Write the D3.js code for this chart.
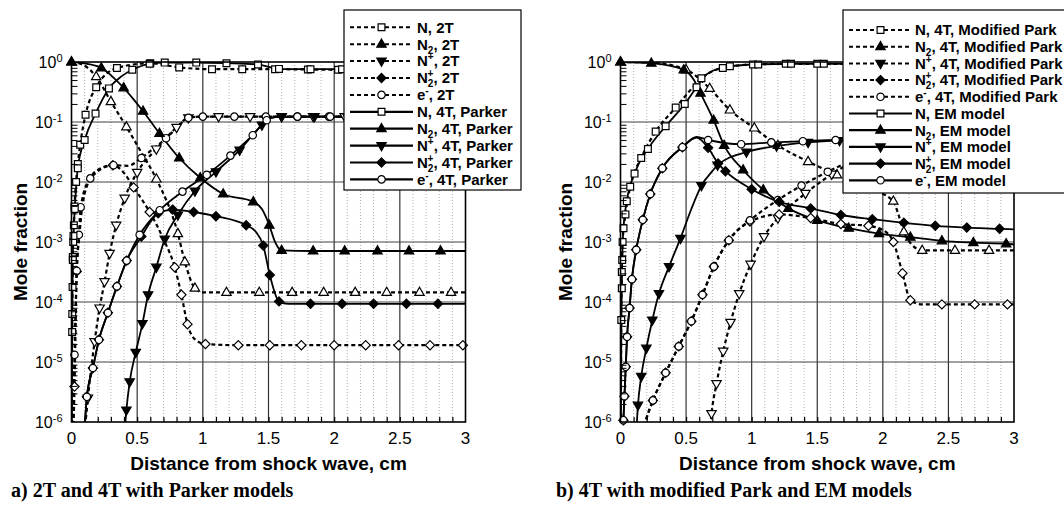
<!DOCTYPE html>
<html><head><meta charset="utf-8">
<script src="https://cdn.jsdelivr.net/npm/d3@7"></script>
<style>body{margin:0;background:#fff}text{font-family:"Liberation Sans",Arial,Helvetica,sans-serif}text.cap{font-family:"Liberation Serif","Times New Roman",serif}</style>
</head><body><svg id="c" width="1064" height="506" xmlns="http://www.w3.org/2000/svg"></svg>
<script>
// Each point: [distance from shock wave (cm), log10(mole fraction), optional 0 = no marker]
// ---- Panel a: 2T and 4T with Parker models ----
const a_N_2T = [[0.002,-6.5,0],[0.006,-4.2],[0.008,-3.75],[0.010,-3.25],[0.013,-3.0],[0.018,-2.72],[0.023,-2.41],[0.035,-2.0],[0.048,-1.7],[0.066,-1.38],[0.107,-0.88],[0.188,-0.42],[0.346,-0.1],[0.6,-0.02],[0.82,-0.09],[1.07,-0.12],[1.3,-0.12],[1.55,-0.12],[1.8,-0.125],[2.03,-0.13],[2.3,-0.13],[2.55,-0.13],[2.8,-0.13],[3.0,-0.13,0]];
const a_N2_2T = [[0,0],[0.09,-0.05,0],[0.188,-0.245],[0.3,-0.66],[0.418,-1.08],[0.53,-1.5,0],[0.646,-1.95],[0.81,-2.86],[0.863,-3.33],[0.94,-3.77],[1.0,-3.84,0],[1.18,-3.84],[1.43,-3.84],[1.68,-3.84],[1.92,-3.84],[2.16,-3.84],[2.4,-3.84],[2.65,-3.84],[2.89,-3.84],[3.0,-3.84,0]];
const a_Np_2T = [[0.095,-6.3,0],[0.125,-5.6],[0.176,-4.66],[0.214,-4.1],[0.252,-3.66],[0.29,-3.19],[0.34,-2.72],[0.405,-2.27],[0.5,-1.84],[0.646,-1.45],[0.8,-1.09],[0.89,-0.93],[1.0,-0.91,0],[1.12,-0.91],[1.36,-0.91],[1.6,-0.91],[1.84,-0.91],[2.08,-0.91],[2.32,-0.91],[2.56,-0.91],[2.8,-0.91],[3.0,-0.91,0]];
const a_N2p_2T = [[0.012,-6.4,0],[0.023,-5.41],[0.04,-3.49],[0.06,-2.9,0],[0.08,-2.45,0],[0.143,-1.94,0],[0.2,-1.8,0],[0.315,-1.72],[0.4,-1.85,0],[0.473,-2.09],[0.595,-2.5],[0.7,-2.95,0],[0.786,-3.42],[0.837,-3.88],[0.883,-4.37],[0.95,-4.64,0],[1.02,-4.7],[1.27,-4.72],[1.51,-4.72],[1.75,-4.72],[2.0,-4.72],[2.24,-4.72],[2.49,-4.72],[2.73,-4.72],[2.98,-4.72],[3.0,-4.72,0]];
const a_e_2T = [[0.01,-6.4,0],[0.023,-4.88],[0.04,-3.48],[0.056,-2.88],[0.07,-2.42],[0.143,-1.94],[0.32,-1.72],[0.43,-1.73,0],[0.532,-1.6],[0.62,-1.45,0],[0.72,-1.27],[0.8,-1.1,0],[0.89,-0.93],[1.0,-0.91],[1.24,-0.91],[1.48,-0.91],[1.72,-0.91],[1.96,-0.91],[2.2,-0.91],[2.44,-0.91],[2.68,-0.91],[2.92,-0.91],[3.0,-0.91,0]];
const a_N_4T = [[0.002,-6.5,0],[0.005,-4.5],[0.01,-3.3],[0.015,-2.9],[0.025,-2.45],[0.048,-1.77],[0.1,-1.3],[0.183,-0.86],[0.285,-0.44],[0.38,-0.24,0],[0.463,-0.13],[0.595,-0.03],[0.71,-0.01],[0.95,-0.01],[1.18,-0.02],[1.42,-0.04],[1.5,-0.08,0],[1.58,-0.115],[1.64,-0.12,0],[1.82,-0.12],[2.06,-0.12],[2.3,-0.12],[2.54,-0.12],[2.78,-0.12],[3.0,-0.12,0]];
const a_N2_4T = [[0,0],[0.12,-0.03,0],[0.227,-0.1],[0.397,-0.43],[0.545,-0.82],[0.67,-1.19],[0.82,-1.6],[0.98,-1.93],[1.155,-2.2],[1.384,-2.33],[1.45,-2.45,0],[1.506,-2.72],[1.55,-3.0,0],[1.6,-3.14],[1.84,-3.15],[2.08,-3.15],[2.33,-3.15],[2.57,-3.15],[2.81,-3.15],[3.0,-3.15,0]];
const a_Np_4T = [[0.4,-6.3,0],[0.418,-5.8],[0.443,-5.33],[0.489,-4.84],[0.54,-4.36],[0.583,-3.88],[0.646,-3.42],[0.71,-2.95],[0.81,-2.55],[0.94,-2.15],[1.1,-1.83],[1.28,-1.47],[1.45,-1.05],[1.52,-0.93,0],[1.6,-0.91],[1.85,-0.91],[2.1,-0.91],[2.35,-0.91],[2.6,-0.91],[2.85,-0.91],[3.0,-0.91,0]];
const a_N2p_4T = [[0.095,-6.3,0],[0.117,-5.58],[0.163,-5.1],[0.209,-4.63],[0.277,-4.18],[0.346,-3.74],[0.42,-3.31],[0.532,-2.91],[0.6,-2.67,0],[0.66,-2.52],[0.77,-2.46],[0.93,-2.5],[1.1,-2.57],[1.33,-2.72],[1.4,-2.82,0],[1.46,-3.06],[1.51,-3.55],[1.58,-3.99],[1.65,-4.03,0],[1.82,-4.03],[2.06,-4.03],[2.3,-4.03],[2.55,-4.03],[2.79,-4.03],[3.0,-4.03,0]];
const a_e_4T = [[0.095,-6.3,0],[0.117,-5.58],[0.163,-5.1],[0.209,-4.63],[0.277,-4.18],[0.346,-3.74],[0.42,-3.31],[0.519,-2.88],[0.672,-2.47],[0.845,-2.16],[1.03,-1.88],[1.21,-1.56],[1.38,-1.22],[1.486,-0.97],[1.55,-0.92,0],[1.72,-0.91],[1.97,-0.91],[2.22,-0.91],[2.47,-0.91],[2.72,-0.91],[2.97,-0.91],[3.0,-0.91,0]];
// ---- Panel b: 4T with modified Park and EM models ----
const b_N_MP = [[0.002,-6.5,0],[0.006,-4.3],[0.01,-3.5],[0.016,-3.0],[0.038,-2.54],[0.074,-2.08],[0.158,-1.6],[0.268,-1.16],[0.421,-0.76],[0.52,-0.5,0],[0.617,-0.27],[0.78,-0.1],[1.01,-0.04],[1.26,-0.03],[1.5,-0.03],[1.76,-0.03],[2.0,-0.03],[2.25,-0.03],[2.5,-0.03],[2.75,-0.03],[3.0,-0.03,0]];
const b_N2_MP = [[0,0],[0.235,-0.01,0],[0.5,-0.13],[0.68,-0.44],[0.834,-0.8],[1.02,-1.1],[1.2,-1.39],[1.43,-1.66],[1.65,-1.88],[1.86,-2.08],[2.08,-2.32],[2.12,-2.55,0],[2.16,-2.83],[2.22,-3.04,0],[2.3,-3.14],[2.55,-3.14],[2.81,-3.14],[3.0,-3.14,0]];
const b_Np_MP = [[0.675,-6.3,0],[0.694,-5.86],[0.732,-5.36],[0.783,-4.82],[0.839,-4.34],[0.905,-3.86],[0.992,-3.37],[1.094,-2.91],[1.2,-2.6],[1.41,-2.19],[1.61,-1.87],[1.8,-1.62],[1.95,-1.42],[2.05,-1.22],[2.13,-1.04],[2.25,-0.97],[2.5,-0.96],[2.75,-0.96],[3.0,-0.96,0]];
const b_N2p_MP = [[0.13,-6.4,0],[0.247,-5.64],[0.344,-5.18],[0.444,-4.74],[0.54,-4.32],[0.625,-3.88],[0.712,-3.41],[0.826,-2.97],[0.987,-2.66],[1.21,-2.54],[1.45,-2.6],[1.68,-2.7],[1.89,-2.73],[2.0,-2.8,0],[2.08,-3.0],[2.15,-3.52],[2.21,-3.97],[2.3,-4.04,0],[2.45,-4.04],[2.7,-4.04],[2.95,-4.04],[3.0,-4.04,0]];
const b_e_MP = [[0.13,-6.4,0],[0.247,-5.64],[0.344,-5.18],[0.444,-4.74],[0.54,-4.32],[0.625,-3.88],[0.712,-3.41],[0.826,-2.97],[0.987,-2.64],[1.2,-2.3],[1.38,-2.06],[1.58,-1.83],[1.76,-1.64],[1.92,-1.45],[2.04,-1.25],[2.12,-1.06],[2.2,-0.97],[2.45,-0.95],[2.7,-0.95],[2.95,-0.95],[3.0,-0.95,0]];
const b_N_EM = [[0.002,-6.5,0],[0.006,-4.5,0],[0.01,-3.77],[0.013,-3.3],[0.023,-2.77],[0.048,-2.32],[0.107,-1.86],[0.209,-1.45],[0.344,-1.07],[0.49,-0.7],[0.58,-0.42],[0.66,-0.2,0],[0.834,-0.07],[1.05,-0.04],[1.3,-0.03],[1.55,-0.03],[1.8,-0.03],[2.05,-0.03],[2.3,-0.03],[2.55,-0.03],[2.8,-0.03],[3.0,-0.03,0]];
const b_N2_EM = [[0,0],[0.235,-0.02],[0.482,-0.13],[0.56,-0.3,0],[0.61,-0.52],[0.71,-0.97],[0.79,-1.39],[0.935,-1.8],[1.088,-2.13],[1.28,-2.44],[1.5,-2.64],[1.74,-2.77],[1.97,-2.86],[2.21,-2.92],[2.45,-2.98],[2.69,-3.01],[2.94,-3.03],[3.0,-3.04,0]];
const b_Np_EM = [[0.115,-6.4,0],[0.133,-5.72],[0.158,-5.24],[0.197,-4.77],[0.243,-4.3],[0.293,-3.86],[0.37,-3.41],[0.457,-2.94],[0.54,-2.45,0],[0.617,-2.06],[0.7,-1.82,0],[0.74,-1.72],[0.96,-1.5],[1.19,-1.4],[1.43,-1.34],[1.67,-1.31],[1.92,-1.3],[2.16,-1.3],[2.4,-1.29],[2.65,-1.29],[2.9,-1.29],[3.0,-1.29,0]];
const b_N2p_EM = [[0.015,-6.4,0],[0.022,-5.97],[0.03,-5.57],[0.04,-5.08],[0.05,-4.58],[0.069,-4.1],[0.087,-3.62],[0.12,-3.13],[0.17,-2.63],[0.227,-2.2],[0.319,-1.77],[0.472,-1.42],[0.58,-1.26,0],[0.668,-1.43],[0.744,-1.69],[0.8,-1.82],[1.0,-2.12],[1.21,-2.33],[1.45,-2.44],[1.68,-2.55],[1.92,-2.62],[2.16,-2.68],[2.4,-2.73],[2.64,-2.76],[2.89,-2.78],[3.0,-2.79,0]];
const b_e_EM = [[0.015,-6.4,0],[0.022,-5.97],[0.03,-5.57],[0.04,-5.08],[0.05,-4.58],[0.069,-4.1],[0.087,-3.62],[0.12,-3.13],[0.17,-2.63],[0.227,-2.2],[0.319,-1.77],[0.472,-1.42],[0.58,-1.25,0],[0.668,-1.3],[0.92,-1.37],[1.15,-1.34],[1.39,-1.32],[1.64,-1.3],[1.88,-1.3],[2.13,-1.29],[2.37,-1.29],[2.62,-1.28],[2.86,-1.28],[3.0,-1.28,0]];

// ---- Axis tick labels ----
const xTickValues = [0,0.5,1,1.5,2,2.5,3];
const xTickLabels = ["0","0.5","1","1.5","2","2.5","3"];
const yTickExps = [0,-1,-2,-3,-4,-5,-6];
const xTitle = "Distance from shock wave, cm";
const yTitle = "Mole fraction";
const captions = ["a) 2T and 4T with Parker models","b) 4T with modified Park and EM models"];

// ---- Series definitions (legend order) ----
const seriesA = [
  {d:a_N_2T, sp:"N", suf:", 2T", shape:"square", dash:true},
  {d:a_N2_2T, sp:"N2", suf:", 2T", shape:"up", dash:true},
  {d:a_Np_2T, sp:"N+", suf:", 2T", shape:"down", dash:true},
  {d:a_N2p_2T, sp:"N2+", suf:", 2T", shape:"diamond", dash:true},
  {d:a_e_2T, sp:"e-", suf:", 2T", shape:"circle", dash:true},
  {d:a_N_4T, sp:"N", suf:", 4T, Parker", shape:"square", dash:false},
  {d:a_N2_4T, sp:"N2", suf:", 4T, Parker", shape:"up", dash:false},
  {d:a_Np_4T, sp:"N+", suf:", 4T, Parker", shape:"down", dash:false},
  {d:a_N2p_4T, sp:"N2+", suf:", 4T, Parker", shape:"diamond", dash:false},
  {d:a_e_4T, sp:"e-", suf:", 4T, Parker", shape:"circle", dash:false}
];
const seriesB = [
  {d:b_N_MP, sp:"N", suf:", 4T, Modified Park", shape:"square", dash:true},
  {d:b_N2_MP, sp:"N2", suf:", 4T, Modified Park", shape:"up", dash:true},
  {d:b_Np_MP, sp:"N+", suf:", 4T, Modified Park", shape:"down", dash:true},
  {d:b_N2p_MP, sp:"N2+", suf:", 4T, Modified Park", shape:"diamond", dash:true},
  {d:b_e_MP, sp:"e-", suf:", 4T, Modified Park", shape:"circle", dash:true},
  {d:b_N_EM, sp:"N", suf:", EM model", shape:"square", dash:false},
  {d:b_N2_EM, sp:"N2", suf:", EM model", shape:"up", dash:false},
  {d:b_Np_EM, sp:"N+", suf:", EM model", shape:"down", dash:false},
  {d:b_N2p_EM, sp:"N2+", suf:", EM model", shape:"diamond", dash:false},
  {d:b_e_EM, sp:"e-", suf:", EM model", shape:"circle", dash:false}
];

const yTop = 62, yBot = 422;
const panels = [
  {x0:71.5, x1:465.5, series:seriesA, cap:captions[0], capX:11, ylabX:27,
   leg:{x:344, y:10, w:177, h:180, r0:27.3, dy:16.9, l0:350, l1:413, tx:417}},
  {x0:620.5, x1:1014, series:seriesB, cap:captions[1], capX:556, ylabX:572,
   leg:{x:843, y:10, w:240, h:183, r0:30, dy:16.7, l0:849, l1:912, tx:915}}
];

function shapePath(s){
  switch(s){
    case "square": return "M-3.4,-3.4h6.8v6.8h-6.8z";
    case "up": return "M0,-5.2L4.7,3L-4.7,3Z";
    case "down": return "M0,5.2L4.7,-3L-4.7,-3Z";
    case "diamond": return "M0,-4.6L4.6,0L0,4.6L-4.6,0Z";
    default: return "M3.7,0A3.7,3.7 0 1,1 -3.7,0A3.7,3.7 0 1,1 3.7,0Z";
  }
}
function markerFill(s, dash){
  if (dash) return "#fff";
  return (s==="up"||s==="down"||s==="diamond") ? "#000" : "#fff";
}
function addSpecies(t, sp, suf){
  const sub = 10;
  if (sp==="N"){ t.append("tspan").text("N"+suf); }
  else if (sp==="N2"){ t.append("tspan").text("N"); t.append("tspan").attr("font-size",sub).attr("dy",4).text("2"); t.append("tspan").attr("dy",-4).text(suf); }
  else if (sp==="N+"){ t.append("tspan").text("N"); t.append("tspan").attr("font-size",sub).attr("dy",-6).text("+"); t.append("tspan").attr("dy",6).text(suf); }
  else if (sp==="N2+"){ t.append("tspan").text("N"); t.append("tspan").attr("font-size",sub).attr("dy",4).text("2"); t.append("tspan").attr("font-size",sub).attr("dx",-5.8).attr("dy",-10).text("+"); t.append("tspan").attr("dy",6).text(suf); }
  else { t.append("tspan").text("e"); t.append("tspan").attr("font-size",sub).attr("dy",-6).text("-"); t.append("tspan").attr("dy",6).text(suf); }
}

const svg = d3.select("#c");
svg.append("rect").attr("width",1064).attr("height",506).attr("fill","#fff");

panels.forEach((P, pi) => {
  const x = d3.scaleLinear().domain([0,3]).range([P.x0, P.x1]);
  const y = d3.scaleLog().domain([1e-6,1]).range([yBot, yTop]);
  const g = svg.append("g");
  const clipId = "clip"+pi;
  svg.append("defs").append("clipPath").attr("id",clipId).append("rect")
    .attr("x",P.x0).attr("y",yTop).attr("width",P.x1-P.x0).attr("height",yBot-yTop);

  // minor vertical dotted grid
  const minorX = d3.range(1,30).map(i=>i/10).filter(v=>Math.abs(v*2-Math.round(v*2))>1e-6);
  g.append("g").selectAll("line").data(minorX).join("line")
    .attr("x1",d=>x(d)).attr("x2",d=>x(d)).attr("y1",yTop).attr("y2",yBot)
    .attr("stroke","#b0b0b0").attr("stroke-width",1).attr("stroke-dasharray","1,2");
  // major grid
  g.append("g").selectAll("line").data(xTickValues.slice(1,-1)).join("line")
    .attr("x1",d=>x(d)).attr("x2",d=>x(d)).attr("y1",yTop).attr("y2",yBot)
    .attr("stroke","#333").attr("stroke-width",1.2);
  g.append("g").selectAll("line").data(yTickExps.slice(1,-1)).join("line")
    .attr("x1",P.x0).attr("x2",P.x1).attr("y1",d=>y(Math.pow(10,d))).attr("y2",d=>y(Math.pow(10,d)))
    .attr("stroke","#444").attr("stroke-width",1.2);

  // curves
  const line = d3.line().x(p=>x(p[0])).y(p=>y(Math.pow(10,p[1]))).curve(d3.curveMonotoneX);
  const cg = g.append("g").attr("clip-path",`url(#${clipId})`);
  P.series.forEach(s => {
    cg.append("path").attr("d", line(s.d)).attr("fill","none").attr("stroke","#000")
      .attr("stroke-width", s.dash ? 2.2 : 1.8)
      .attr("stroke-dasharray", s.dash ? "4,3" : null);
  });
  // markers
  P.series.forEach(s => {
    const pts = s.d.filter(p => p[2]!==0 && p[0]>=0 && p[0]<=3 && p[1]>=-6.02 && p[1]<=0);
    g.append("g").selectAll("path").data(pts).join("path")
      .attr("transform", p=>`translate(${x(p[0])},${y(Math.pow(10,p[1]))})`)
      .attr("d", shapePath(s.shape)).attr("fill", markerFill(s.shape, s.dash))
      .attr("stroke","#000").attr("stroke-width",1.2);
  });

  // inward ticks
  const ax = g.append("g").attr("transform",`translate(0,${yBot})`)
    .call(d3.axisBottom(x).tickValues(d3.range(1,30).map(i=>i/10)).tickSize(-5).tickFormat(""));
  ax.select(".domain").remove();
  ax.selectAll("line").attr("stroke","#000").attr("stroke-width",1.2);
  const minorY = [];
  for (let e=-6; e<0; e++) for (let m=2; m<10; m++) minorY.push(m*Math.pow(10,e));
  const ay = g.append("g").attr("transform",`translate(${P.x0},0)`)
    .call(d3.axisLeft(y).tickValues(minorY).tickSize(-6).tickFormat(""));
  ay.select(".domain").remove();
  ay.selectAll("line").attr("stroke","#000").attr("stroke-width",1);

  // frame
  g.append("rect").attr("x",P.x0).attr("y",yTop).attr("width",P.x1-P.x0).attr("height",yBot-yTop)
    .attr("fill","none").attr("stroke","#000").attr("stroke-width",1.6);

  // tick labels
  g.append("g").selectAll("text").data(xTickValues).join("text")
    .attr("x",(d)=>x(d)).attr("y",443.5).attr("text-anchor","middle")
    .attr("font-size",17).text((d,i)=>xTickLabels[i]);
  yTickExps.forEach(e => {
    const t = g.append("text").attr("x",P.x0-9).attr("y",y(Math.pow(10,e))+6.3)
      .attr("text-anchor","end").attr("font-size",16);
    t.append("tspan").text("10");
    t.append("tspan").attr("font-size",11).attr("dy",-6.6).text(String(e));
  });

  // titles
  g.append("text").attr("x",(P.x0+P.x1)/2).attr("y",470).attr("text-anchor","middle")
    .attr("font-size",19).attr("font-weight","bold").text(xTitle);
  g.append("text").attr("transform",`translate(${P.ylabX},${(yTop+yBot)/2}) rotate(-90)`)
    .attr("text-anchor","middle").attr("font-size",19).attr("font-weight","bold").text(yTitle);
  g.append("text").attr("class","cap").attr("x",P.capX).attr("y",497)
    .style("font-family","'Liberation Serif','Times New Roman',serif")
    .attr("font-size",20).attr("font-weight","bold").text(P.cap);

  // legend
  const L = P.leg;
  const lg = svg.append("g");
  lg.append("rect").attr("x",L.x).attr("y",L.y).attr("width",L.w).attr("height",L.h)
    .attr("fill","#fff").attr("stroke","#000").attr("stroke-width",1.2);
  P.series.forEach((s,i) => {
    const cy = L.r0 + i*L.dy;
    lg.append("line").attr("x1",L.l0).attr("x2",L.l1).attr("y1",cy).attr("y2",cy)
      .attr("stroke","#000").attr("stroke-width", s.dash?2:2.2)
      .attr("stroke-dasharray", s.dash ? "4,3" : null);
    const lf = (s.shape==="square"||s.shape==="circle") ? "#fff" : "#000";
    lg.append("path").attr("transform",`translate(${(L.l0+L.l1)/2},${cy})`)
      .attr("d", shapePath(s.shape)).attr("fill",lf).attr("stroke","#000").attr("stroke-width",1.2);
    const t = lg.append("text").attr("x",L.tx).attr("y",cy+5.3).attr("font-size",15).attr("font-weight","bold");
    addSpecies(t, s.sp, s.suf);
  });
});
</script>
</body></html>
